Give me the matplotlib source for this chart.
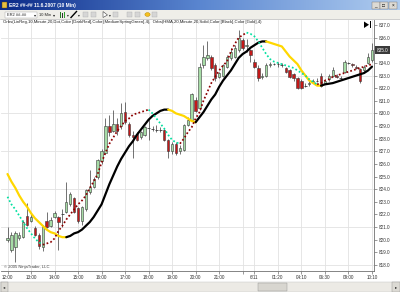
import numpy as np
import matplotlib
matplotlib.use("Agg")
import matplotlib.pyplot as plt
from matplotlib.patches import Rectangle, Polygon, Circle
from matplotlib.collections import LineCollection
import matplotlib.transforms as mtrans

plt.rcParams['font.family'] = ['Liberation Sans', 'DejaVu Sans']

W, H = 400, 292

# ER2 10 min bars, 11.6.2007 12:00 -> 12.6.2007 10:10
opens = [820.0, 819.2, 819.4, 820.1, 820.2, 821.9, 821.5, 820.9, 820.4, 819.4,
         821.5, 821.1, 821.8, 821.8, 822.0, 822.2, 822.8, 823.3, 822.5, 821.5,
         822.4, 823.8, 824.2, 825.0, 826.2, 826.9, 829.0, 828.6, 829.2, 829.0,
         830.1, 829.2, 828.3, 828.4, 828.1, 828.3, 828.8, 828.8, 828.7, 828.7,
         828.7, 827.9, 827.0, 827.6, 827.0, 827.1, 829.1, 829.5, 831.1, 830.4,
         833.8, 834.4, 834.5, 833.8, 832.9, 833.0, 833.7, 834.4, 834.5, 835.0,
         835.8, 835.3, 835.0, 834.1, 833.6, 832.9, 833.0, 833.8, 833.9, 833.9,
         833.8, 833.6, 833.4, 833.1, 832.8, 832.6, 832.2, 832.3, 832.5, 832.6,
         833.0, 832.4, 832.7, 833.0, 833.0, 832.8, 833.3, 834.0, 833.9, 833.7,
         833.5, 833.4, 834.0, 834.2]
highs = [821.0, 820.6, 820.7, 820.6, 821.6, 822.9, 822.0, 821.1, 820.5, 821.2,
         822.2, 821.8, 822.3, 821.9, 822.4, 824.6, 823.8, 823.4, 822.6, 822.7,
         824.0, 825.5, 825.0, 826.4, 827.2, 829.6, 829.9, 830.3, 829.6, 830.8,
         830.9, 829.3, 828.6, 828.5, 828.6, 829.0, 829.6, 829.0, 829.1, 828.9,
         828.8, 828.0, 827.7, 827.7, 827.5, 829.2, 829.7, 831.6, 831.3, 834.0,
         835.4, 835.7, 834.6, 834.0, 833.3, 833.9, 834.6, 835.2, 835.4, 836.6,
         836.0, 835.9, 835.1, 834.3, 833.8, 833.2, 834.0, 834.1, 834.0, 834.1,
         834.0, 833.7, 833.5, 833.2, 832.9, 832.7, 832.4, 832.6, 832.7, 832.8,
         833.2, 832.7, 833.1, 833.7, 833.1, 833.0, 834.2, 834.1, 834.0, 833.8,
         833.6, 833.8, 834.8, 835.6]
lows = [819.8, 819.0, 818.2, 820.0, 820.1, 821.1, 821.4, 820.3, 819.3, 819.1,
        820.9, 821.0, 821.7, 819.2, 821.0, 822.1, 822.7, 822.1, 821.3, 821.2,
        822.3, 823.6, 824.1, 824.8, 826.0, 826.8, 828.2, 828.5, 828.3, 828.8,
        829.2, 828.1, 826.5, 827.8, 828.0, 828.2, 827.9, 828.6, 828.5, 828.5,
        827.8, 826.5, 826.8, 826.7, 826.8, 827.0, 829.0, 829.4, 830.1, 830.3,
        833.6, 834.2, 833.4, 832.6, 832.8, 832.9, 833.6, 834.2, 834.4, 834.9,
        835.0, 834.9, 834.1, 833.6, 832.6, 832.7, 832.9, 833.7, 833.8, 833.7,
        833.7, 833.2, 832.8, 832.6, 831.9, 831.9, 832.1, 832.2, 832.4, 832.5,
        832.1, 832.3, 832.6, 832.9, 832.8, 832.7, 833.2, 833.9, 833.7, 833.5,
        832.4, 833.3, 833.9, 834.1]
closes = [820.1, 820.4, 820.5, 820.4, 821.4, 821.2, 821.8, 820.4, 819.5, 821.0,
          821.0, 821.6, 822.1, 821.4, 822.05, 823.0, 823.6, 822.2, 821.5, 822.6,
          823.9, 824.2, 824.8, 826.3, 827.0, 829.0, 828.5, 829.2, 828.6, 830.0,
          829.3, 828.3, 828.1, 827.9, 828.5, 828.9, 828.85, 828.75, 828.7, 828.65,
          827.9, 827.0, 827.6, 826.9, 827.3, 829.1, 829.5, 831.5, 830.2, 833.7,
          834.5, 834.6, 833.6, 832.8, 833.2, 833.8, 834.5, 834.9, 835.2, 836.0,
          835.2, 835.4, 834.6, 833.7, 832.8, 833.0, 833.8, 833.9, 833.9, 833.9,
          833.8, 833.3, 832.9, 832.8, 832.0, 832.0, 832.2, 832.4, 832.6, 832.6,
          832.2, 832.6, 833.0, 833.4, 832.9, 832.8, 834.1, 834.0, 833.8, 833.6,
          832.6, 833.7, 834.5, 835.0]

# Orbs(LinReg,10,...) dotted line
linreg = [823.4, 822.8, 822.4, 821.9, 821.4, 820.9, 820.5, 820.1, 819.8, 819.6,
          819.7, 819.8, 820.1, 820.7, 821.1, 821.6, 822.0, 822.4, 822.8, 823.1,
          823.5, 824.1, 824.6, 825.2, 826.1, 826.9, 827.6, 828.1, 828.6, 829.0,
          829.4, 829.6, 829.9, 830.0, 830.1, 830.2, 830.3, 830.0, 829.6, 829.2,
          828.8, 828.3, 827.9, 827.7, 827.6, 828.0, 828.5, 828.9, 829.6, 830.1,
          831.0, 831.7, 832.4, 832.9, 833.4, 833.8, 834.1, 834.9, 835.5, 836.0,
          836.2, 836.4, 836.3, 836.1, 835.7, 835.2, 834.7, 834.3, 834.1, 834.0,
          833.9, 833.8, 833.7, 833.6, 833.4, 833.2, 833.0, 832.7, 832.5, 832.3,
          832.4, 832.6, 832.7, 832.9, 833.0, 833.1, 833.2, 833.3, 833.4, 833.5,
          833.6, 833.7, 833.8, 833.9]

# Orbs(HMA,20,...) solid line
hma = [825.2, 824.6, 824.1, 823.5, 823.0, 822.6, 822.1, 821.7, 821.4, 821.1,
       820.8, 820.6, 820.5, 820.3, 820.2, 820.2, 820.3, 820.5, 820.6, 820.8,
       821.1, 821.4, 821.8, 822.3, 822.8, 823.6, 824.4, 825.1, 825.8, 826.4,
       826.9, 827.4, 827.8, 828.3, 828.7, 829.1, 829.5, 829.8, 830.0, 830.2,
       830.3, 830.3, 830.2, 830.0, 829.9, 829.8, 829.6, 829.4, 829.3, 829.7,
       830.1, 830.6, 831.1, 831.5, 832.1, 832.6, 833.0, 833.4, 833.9, 834.4,
       834.7, 834.9, 835.2, 835.4, 835.6, 835.7, 835.7, 835.6, 835.5, 835.4,
       835.3, 834.9, 834.5, 834.2, 833.9, 833.4, 833.0, 832.6, 832.4, 832.2,
       832.2, 832.3, 832.35, 832.4, 832.5, 832.6, 832.7, 832.8, 832.9, 833.0,
       833.1, 833.2, 833.4, 833.7]

tick_bars = [0, 6, 12, 18, 24, 30, 36, 42, 48, 54, 60, 63, 69, 75, 81, 87, 93]
tick_labels = ['12:00', '13:00', '14:00', '15:00', '16:00', '17:00', '18:00',
               '19:00', '20:00', '21:00', '', '6/11', '01:20', '04:10',
               '06:30', '09:00', '10:10']
price_ticks = list(range(818, 838))
grid_prices = [818, 821, 824, 827, 830, 833, 836]
last_price = 835.0

title = 'ER2 ##-## 11.6.2007 (10 Min)'
indicator_text = ('Orbs(LinReg,10,Minute,20,Dot,Color [DarkRed],Color [MediumSpringGreen],4),  '
                  'Orbs(HMA,20,Minute,20,Solid,Color [Black],Color [Gold],4)')

fig = plt.figure(figsize=(W / 100, H / 100), dpi=100)
fig.patch.set_facecolor('white')


def fx(x):
    return x / W


def fy(y):
    return 1 - y / H


def prect(x0, y0, x1, y1, **kw):
    r = Rectangle((fx(x0), fy(y1)), (x1 - x0) / W, (y1 - y0) / H,
                  transform=fig.transFigure, **kw)
    fig.patches.append(r)
    return r


def ptext(x, y, s, **kw):
    return fig.text(fx(x), fy(y), s, **kw)


def fit(t, width):
    r = fig.canvas.get_renderer()
    bb = t.get_window_extent(r)
    t.set_fontsize(t.get_fontsize() * width / bb.width)


# ---- title bar
tax = fig.add_axes([0, fy(10), 1, 10 / H])
cmap = matplotlib.colors.LinearSegmentedColormap.from_list('tb', ['#0a2a88', '#5a86d0', '#b0cdf0'])
tax.imshow(np.linspace(0, 1, 256)[None, :], cmap=cmap, aspect='auto', extent=[0, 1, 0, 1])
tax.axis('off')
prect(1.5, 2, 6.5, 8, fc='#e8c040', ec='#604000', lw=0.3)
t = ptext(9, 5.3, title, color='white', fontsize=3.6, fontweight='bold', va='center')
fit(t, 66)
for x0, g in [(372, '_'), (380, '□'), (389, '×')]:
    prect(x0, 2, x0 + 7.5, 8.5, fc='#dcdad4', ec='#707070', lw=0.3)
    ptext(x0 + 3.75, 5.5, g, fontsize=3.4, ha='center', va='center', color='black')

# ---- toolbar
prect(0, 10, 400, 19, fc='#efeee9', ec='none')
fig.add_artist(plt.Line2D([0, 1], [fy(19), fy(19)], color='#a8a8a8', lw=0.4))
prect(5, 11.5, 37, 17.5, fc='white', ec='#a0a0a0', lw=0.3)
ptext(7, 14.6, 'ER2 ##-##', fontsize=2.9, va='center', color='#202020')
ptext(33.5, 14.6, '▾', fontsize=3, va='center', color='#202020')
ptext(39, 14.6, '10 Min', fontsize=2.9, va='center', color='#202020')
ptext(52.5, 14.6, '▾', fontsize=3, va='center', color='#202020')
for xb, y0, y1, col in [(60, 12, 17.5, '#208020'), (62, 13, 17.5, '#303030'), (64, 11.5, 17.5, '#30a030')]:
    prect(xb, y0, xb + 1.3, y1, fc=col, ec='none')
ptext(66.5, 14.6, '▾', fontsize=2.6, va='center', color='#202020')
fig.add_artist(plt.Line2D([fx(71), fx(76.5)], [fy(17.5), fy(11.5)], color='black', lw=1.0))
ptext(77.5, 14.6, '▾', fontsize=2.6, va='center', color='#202020')
for x0 in [83, 91, 113, 127, 135, 152]:
    prect(x0, 12, x0 + 5, 17, fc='#d6d6d6', ec='#b0b0b0', lw=0.3)
fig.patches.append(Polygon([(fx(103), fy(11.5)), (fx(103), fy(17.5)), (fx(107.5), fy(15))],
                           closed=True, transform=fig.transFigure, fc='white', ec='#404040', lw=0.4))
ptext(108.5, 14.6, '▾', fontsize=2.6, va='center', color='#202020')
fig.patches.append(Circle((fx(147.5), fy(14.5)), 2.6 / W, transform=fig.transFigure,
                          fc='#f4c020', ec='#b08000', lw=0.3))

# ---- chart
left_px, right_px, top_px, bot_px = 1, 374, 19.5, 271
ax = fig.add_axes([fx(left_px), fy(bot_px), (right_px - left_px) / W, (bot_px - top_px) / H])
bar_px = 3.919
x0_px = 7.5
ax.set_xlim((left_px - x0_px) / bar_px, (right_px - x0_px) / bar_px)
ax.set_ylim(837 - (bot_px - 25) / 12.63, 837 + (25 - top_px) / 12.63)
ax.set_facecolor('white')
for s in ['top', 'left']:
    ax.spines[s].set_visible(False)
for s in ['right', 'bottom']:
    ax.spines[s].set_color('#707070')
    ax.spines[s].set_linewidth(0.6)

for p in grid_prices:
    ax.axhline(p, color='#e2e2e2', lw=0.6, zorder=0)
for b in tick_bars:
    ax.axvline(b, color='#e2e2e2', lw=0.6, zorder=0)

ax.yaxis.tick_right()
ax.set_yticks(price_ticks)
ax.set_yticklabels([f'{v:.1f}' for v in price_ticks])
ax.set_xticks(tick_bars)
ax.set_xticklabels(tick_labels)
ax.tick_params(axis='both', length=2, width=0.5, color='#707070', labelsize=3.3,
               labelcolor='#303030', pad=1.2)

idx = np.arange(len(closes))
o = np.array(opens)
h = np.array(highs)
l = np.array(lows)
c = np.array(closes)
up = c >= o
bottom = np.minimum(o, c)
body = np.abs(c - o)
solid = body >= 0.08

ax.vlines(idx, l, h, color='#3a3a3a', lw=0.5, zorder=3)
ax.bar(idx[solid], body[solid], bottom=bottom[solid], width=0.62,
       color=np.where(up, '#a6dca6', '#c41818')[solid], edgecolor='#3a3a3a',
       linewidth=0.4, zorder=4)
ax.hlines(c[~solid], idx[~solid] - 0.35, idx[~solid] + 0.35, color='#3a3a3a', lw=0.6, zorder=4)


def direction_runs(vals):
    d = np.diff(vals)
    dirs = []
    cur = 1 if d[0] >= 0 else -1
    for v in d:
        if v > 0:
            cur = 1
        elif v < 0:
            cur = -1
        dirs.append(cur)
    runs = []
    s = 0
    for k in range(1, len(dirs) + 1):
        if k == len(dirs) or dirs[k] != dirs[s]:
            runs.append((s, k, dirs[s]))
            s = k
    return runs


hv = np.array(hma)
for s, e, dr in direction_runs(hv):
    ax.plot(idx[s:e + 1], hv[s:e + 1], color='black' if dr > 0 else '#ffd700',
            lw=1.6, solid_capstyle='round', zorder=6)

lv = np.array(linreg)
for s, e, dr in direction_runs(lv):
    ax.plot(idx[s:e + 1], lv[s:e + 1], color='#8b0000' if dr > 0 else '#00e0a0',
            lw=1.25, linestyle=(0, (1.0, 1.3)), zorder=7)

trans = mtrans.blended_transform_factory(ax.transAxes, ax.transData)
ax.text(1.008, last_price, f'{last_price:.1f}', transform=trans, fontsize=3.3,
        color='white', va='center', ha='left', clip_on=False, zorder=10,
        bbox=dict(boxstyle='square,pad=0.35', fc='#3a3a3a', ec='none'))

# go-to-end icon
fig.patches.append(Polygon([(fx(364), fy(21.5)), (fx(364), fy(28)), (fx(369), fy(24.75))],
                           closed=True, transform=fig.transFigure, fc='black', ec='none'))
prect(369.8, 21.5, 371.3, 28, fc='black', ec='none')

t = ptext(3, 22.3, indicator_text, fontsize=3, va='center', color='#202020')
fit(t, 258)
ptext(4, 267, '© 2005 NinjaTrader, LLC', fontsize=3.0, va='center', color='#404040')

# ---- scrollbar
prect(0, 281.5, 400, 292, fc='#eceae5', ec='#c0c0c0', lw=0.3)
prect(0.5, 282, 8, 291.5, fc='#dcdad4', ec='#909090', lw=0.3)
ptext(4.2, 286.8, '◂', fontsize=3.2, ha='center', va='center', color='#202020')
prect(392, 282, 399.5, 291.5, fc='#dcdad4', ec='#909090', lw=0.3)
ptext(395.8, 286.8, '▸', fontsize=3.2, ha='center', va='center', color='#202020')
prect(258, 282.5, 287, 291, fc='#d8d6d0', ec='#909090', lw=0.3)

fig.savefig('out.png', dpi=100)
